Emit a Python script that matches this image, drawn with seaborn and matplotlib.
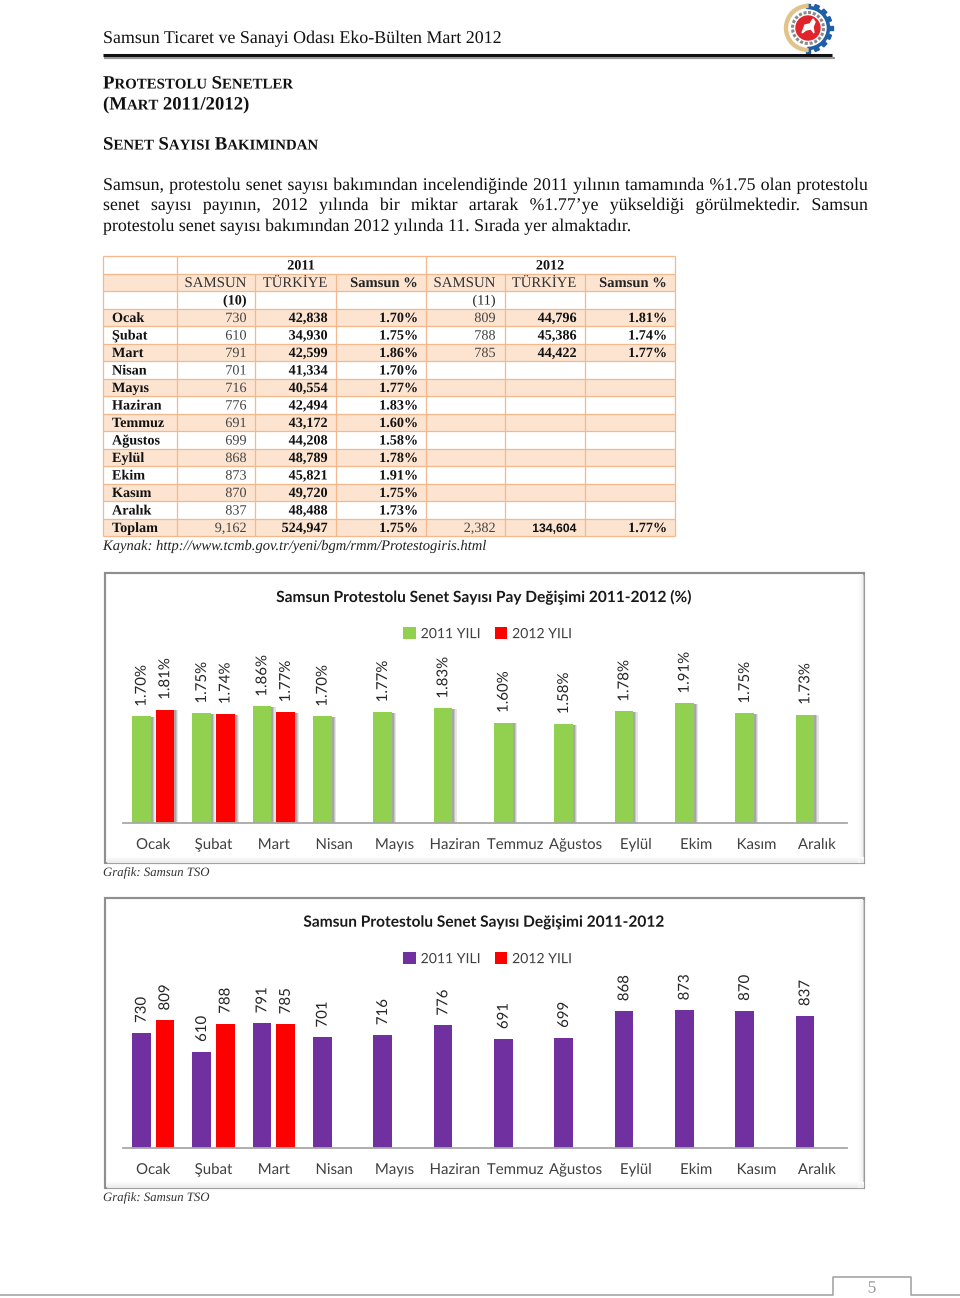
import numpy as np
import pandas as pd
import matplotlib
matplotlib.use('Agg')
import matplotlib.pyplot as plt
import matplotlib.patheffects as pe
from matplotlib.patches import Rectangle, Circle, Wedge, Polygon
import seaborn as sns

# ---- data ----
aylar = ['Ocak', 'Şubat', 'Mart', 'Nisan', 'Mayıs', 'Haziran', 'Temmuz', 'Ağustos', 'Eylül', 'Ekim', 'Kasım', 'Aralık']
samsun_2011 = [730, 610, 791, 701, 716, 776, 691, 699, 868, 873, 870, 837]
turkiye_2011 = [42838, 34930, 42599, 41334, 40554, 42494, 43172, 44208, 48789, 45821, 49720, 48488]
pay_2011 = [1.70, 1.75, 1.86, 1.70, 1.77, 1.83, 1.60, 1.58, 1.78, 1.91, 1.75, 1.73]
samsun_2012 = [809, 788, 785]
turkiye_2012 = [44796, 45386, 44422]
pay_2012 = [1.81, 1.74, 1.77]
toplam_2011 = [9162, 524947, 1.75]
toplam_2012 = [2382, 134604, 1.77]
sira = ['(10)', '(11)']
yillar = ['2011 YILI', '2012 YILI']

W, H = 960, 1298
SERIF = 'Liberation Serif'
CHART_FONT = 'Lato'

sns.set_theme(style='white')
plt.rcParams['font.family'] = [SERIF, 'DejaVu Sans']
plt.rcParams['text.hinting'] = 'none'
# text goes out as paths, otherwise Agg rounds each baseline and the labels jitter by a pixel
plt.rcParams['path.effects'] = [pe.Normal()]

fig = plt.figure(figsize=(W / 100, H / 100), dpi=100, facecolor='white')
bg = fig.add_axes([0, 0, 1, 1], zorder=0)
bg.set_xlim(0, W)
bg.set_ylim(H, 0)
bg.axis('off')
rend = fig.canvas.get_renderer()


def width_of(t):
    return t.get_window_extent(rend).width


def small_caps(x, y, s, big=13.5, small=10.7):
    # small if the character before it is also a letter
    for i, ch in enumerate(s):
        size = small if ch.isalpha() and i > 0 and s[i - 1].isalpha() else big
        t = bg.text(x, y, ch, fontsize=size, fontweight='bold', va='baseline', color='#111111')
        x += width_of(t) if ch != ' ' else 4.5


def justified(x0, x1, y, s, size):
    words = s.split()
    items = [bg.text(0, y, w, fontsize=size, va='baseline', color='#111111') for w in words]
    widths = [width_of(t) for t in items]
    space = (x1 - x0 - sum(widths)) / (len(words) - 1)
    x = x0
    for t, w in zip(items, widths):
        t.set_x(x)
        x += w + space


# ---- page header ----
bg.text(103, 43, 'Samsun Ticaret ve Sanayi Odası Eko-Bülten Mart 2012', fontsize=12.9, va='baseline', color='#111111')
bg.plot([104, 835], [57.5, 57.5], color='#9a9a9a', lw=1.6, solid_capstyle='butt')
bg.plot([103, 832], [55, 55], color='#111111', lw=2.2, solid_capstyle='butt')

# logo
lx, ly = 808, 28
for a in np.arange(-90, 95, 22.5):
    r = np.deg2rad(a)
    d = np.array([np.cos(r), np.sin(r)])
    n = np.array([-d[1], d[0]])
    c = np.array([lx, ly])
    bg.add_patch(Polygon([c + d * 20 + n * 2.2, c + d * 24.5 + n * 2.2, c + d * 24.5 - n * 2.2, c + d * 20 - n * 2.2], color='#1f5fa8'))
bg.add_patch(Wedge((lx, ly), 21.5, -90, 90, color='#1f5fa8'))
bg.add_patch(Wedge((lx, ly), 23.5, 90, 270, width=3, color='#e2c48a'))
bg.add_patch(Circle((lx, ly), 18, color='white'))
bg.add_patch(Circle((lx, ly), 15.5, fill=False, ec='#8a8a8a', lw=2.2, ls=(0, (1, 0.6))))
bg.add_patch(Circle((lx, ly), 12, color='#e0242c'))
bg.add_patch(Polygon([(802, 33), (805, 25), (810, 24), (813, 19), (815, 22), (813, 27), (814, 33), (811, 29), (806, 30)], color='white'))

# ---- headings and text ----
small_caps(103, 88.5, 'PROTESTOLU SENETLER')
small_caps(103, 109.5, '(MART 2011/2012)')
small_caps(103, 149.5, 'SENET SAYISI BAKIMINDAN')

justified(103, 868, 190, 'Samsun, protestolu senet sayısı bakımından incelendiğinde 2011 yılının tamamında %1.75 olan protestolu', 12.85)
justified(103, 868, 210, 'senet sayısı payının, 2012 yılında bir miktar artarak %1.77’ye yükseldiği görülmektedir. Samsun', 12.85)
bg.text(103, 231, 'protestolu senet sayısı bakımından 2012 yılında 11. Sırada yer almaktadır.', fontsize=12.85, va='baseline', color='#111111')

# ---- table ----
col_x = [103, 177, 255, 336, 426, 505, 585, 675]
row_top, row_h, n_rows = 256, 17.5, 16
line_c, shade = '#f5b78c', '#fde4d0'
for r in range(1, n_rows, 2):
    bg.add_patch(Rectangle((col_x[0], row_top + r * row_h), col_x[-1] - col_x[0], row_h, color=shade, lw=0))
for r in range(n_rows + 1):
    bg.plot([col_x[0], col_x[-1]], [row_top + r * row_h] * 2, color=line_c, lw=0.9, solid_capstyle='butt')
for i, x in enumerate(col_x):
    # the year row spans three columns per year
    start = row_top + row_h if i in (2, 3, 5, 6) else row_top
    bg.plot([x, x], [start, row_top + n_rows * row_h], color=line_c, lw=0.9, solid_capstyle='butt')

right_x = [246.5, 327.5, 418, 495.5, 576.5, 667]


def cell(x, r, s, bold=False, ha='right', color='#111111', size=10.2, family=SERIF):
    bg.text(x, row_top + r * row_h + 13.5, s, fontsize=size, ha=ha, va='baseline', color=color,
            fontweight='bold' if bold else 'normal', family=family)


cell(301, 0, '2011', bold=True, ha='center')
cell(550, 0, '2012', bold=True, ha='center')
for k in (0, 3):
    cell(right_x[k], 1, 'SAMSUN', color='#333333', size=10.7)
    cell(right_x[k + 1], 1, 'TÜRKİYE', color='#333333', size=10.6)
    cell(right_x[k + 2], 1, 'Samsun %', bold=True, color='#222222', size=10.5)
cell(right_x[0], 2, sira[0], bold=True)
cell(right_x[3], 2, sira[1], color='#222222')

for i, ay in enumerate(aylar):
    r = i + 3
    cell(112, r, ay, bold=True, ha='left')
    cell(right_x[0], r, f'{samsun_2011[i]}', color='#444444')
    cell(right_x[1], r, f'{turkiye_2011[i]:,}', bold=True)
    cell(right_x[2], r, f'{pay_2011[i]:.2f}%', bold=True)
    if i < len(samsun_2012):
        cell(right_x[3], r, f'{samsun_2012[i]}', color='#444444')
        cell(right_x[4], r, f'{turkiye_2012[i]:,}', bold=True)
        cell(right_x[5], r, f'{pay_2012[i]:.2f}%', bold=True)

cell(112, 15, 'Toplam', bold=True, ha='left')
cell(right_x[0], 15, f'{toplam_2011[0]:,}', color='#444444')
cell(right_x[1], 15, f'{toplam_2011[1]:,}', bold=True)
cell(right_x[2], 15, f'{toplam_2011[2]:.2f}%', bold=True)
cell(right_x[3], 15, f'{toplam_2012[0]:,}', color='#444444')
cell(right_x[4], 15, f'{toplam_2012[1]:,}', bold=True, size=8.8, family='Liberation Sans')
cell(right_x[5], 15, f'{toplam_2012[2]:.2f}%', bold=True)

bg.text(103, 550, 'Kaynak: http://www.tcmb.gov.tr/yeni/bgm/rmm/Protestogiris.html', fontsize=10.5,
        style='italic', va='baseline', color='#222222')


# ---- charts ----
def frame(top, bottom, left=105, right=864):
    bg.add_patch(Rectangle((left, top), right - left, bottom - top, fc='white', ec='#8f8f8f', lw=1.5))
    # soft inner fade along the lower and right edges
    for k in range(6):
        c = str(0.995 - 0.012 * (6 - k))
        bg.plot([left + 2, right - 1], [bottom - 1 - k, bottom - 1 - k], color=c, lw=1)
        bg.plot([right - 1 - k, right - 1 - k], [top + 2, bottom - 1], color=c, lw=1, alpha=0.6)
    bg.add_patch(Rectangle((left, top), right - left, bottom - top, fill=False, ec='#8f8f8f', lw=1.5))


def chart(base_y, y_top, values_2011, values_2012, color_2011, title, title_y, legend_y, fmt, shadow=False):
    frame(base_y - 250, base_y + 40)
    ax = fig.add_axes([123 / W, 1 - base_y / H, (847 - 123) / W, 163 / H], zorder=1)
    ax.patch.set_alpha(0)

    df = pd.DataFrame({
        'ay': aylar + aylar[:len(values_2012)],
        'deger': list(values_2011) + list(values_2012),
        'yil': [yillar[0]] * len(values_2011) + [yillar[1]] * len(values_2012),
    })
    sns.barplot(data=df, x='ay', y='deger', hue='yil', order=aylar, hue_order=yillar,
                palette=[color_2011, '#ff0000'], saturation=1, width=0.78, gap=0.21, errorbar=None,
                linewidth=0, ax=ax)
    ax.set_ylim(0, y_top)
    ax.set_xlim(-0.5, 11.5)
    ax.set_xlabel('')
    ax.set_ylabel('')
    ax.set_yticks([])
    sns.despine(ax=ax, left=True)
    ax.spines['bottom'].set_color('#a8a8a8')
    ax.spines['bottom'].set_linewidth(1.3)
    ax.tick_params(axis='x', length=0, pad=18.7, labelsize=10.8, labelcolor='#404040')
    for lab in ax.get_xticklabels():
        lab.set_fontfamily(CHART_FONT)
        lab.set_verticalalignment('baseline')

    for cont in ax.containers:
        if shadow:
            for b in cont:
                b.set_path_effects([
                    pe.SimplePatchShadow(offset=(3.0, -0.5), shadow_rgbFace='#aaaaaa', alpha=0.3),
                    pe.SimplePatchShadow(offset=(2.2, -0.5), shadow_rgbFace='#999999', alpha=0.4),
                    pe.SimplePatchShadow(offset=(1.4, -0.5), shadow_rgbFace='#888888', alpha=0.5),
                    pe.Normal()])
        labs = ax.bar_label(cont, fmt=fmt, rotation=90, padding=7, fontsize=10.8, color='#262626')
        for t in labs:
            t.set_fontfamily(CHART_FONT)

    sns.move_legend(ax, 'center', bbox_to_anchor=(487.5 / W, 1 - legend_y / H), bbox_transform=fig.transFigure,
                    ncol=2, frameon=False, title=None, handlelength=0.9, handleheight=0.9,
                    handletextpad=0.35, columnspacing=1.0, prop={'family': CHART_FONT, 'size': 10.1})
    leg = ax.get_legend()
    for t in leg.get_texts():
        t.set_color('#404040')

    fig.text(484 / W, 1 - title_y / H, title, ha='center', va='center', fontsize=11.15, fontweight='bold',
             family=CHART_FONT, color='#1a1a1a', zorder=3)
    return ax


chart(823, 2.6, pay_2011, pay_2012, '#92d050', 'Samsun Protestolu Senet Sayısı Pay Değişimi 2011-2012 (%)',
      597.5, 634, lambda v: f'{v:.2f}%', shadow=True)
chart(1148, 1032, samsun_2011, samsun_2012, '#7030a0', 'Samsun Protestolu Senet Sayısı Değişimi 2011-2012',
      922.5, 959, lambda v: f'{v:.0f}')

bg.text(103, 876, 'Grafik: Samsun TSO', fontsize=9.2, style='italic', va='baseline', color='#333333')
bg.text(103, 1201, 'Grafik: Samsun TSO', fontsize=9.2, style='italic', va='baseline', color='#333333')

# ---- footer ----
bg.plot([0, 833, 833, 911, 911, W], [1295, 1295, 1277, 1277, 1295, 1295], color='#a6a6a6', lw=1.2)
bg.text(872, 1288.5, '5', fontsize=12.5, ha='center', va='center', color='#999999')

fig.savefig('out.png', dpi=100)
